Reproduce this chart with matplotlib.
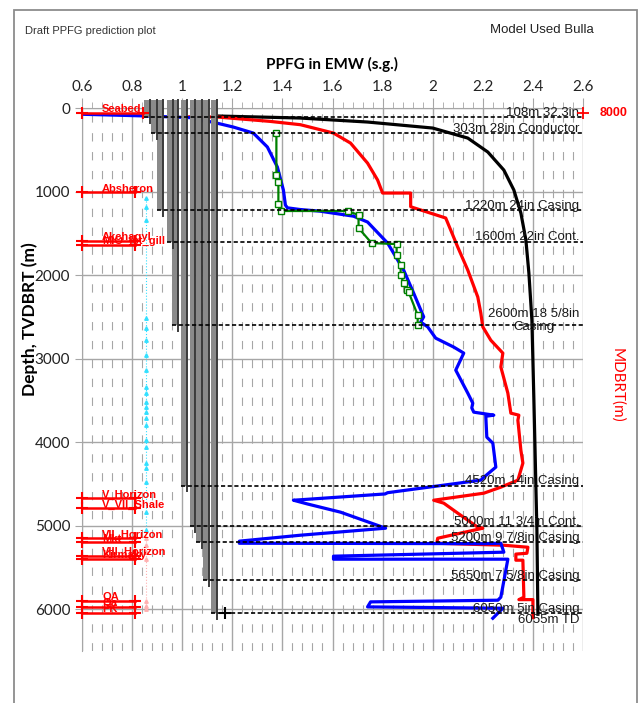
import numpy as np
import matplotlib
matplotlib.use('Agg')
import matplotlib.pyplot as plt
from matplotlib import font_manager as fm
from matplotlib.patches import Rectangle
from matplotlib.ticker import MultipleLocator


def has_font(name):
    try:
        fm.findfont(fm.FontProperties(family=name), fallback_to_default=False)
        return True
    except Exception:
        return False


NARROW = 'Liberation Sans Narrow' if has_font('Liberation Sans Narrow') else 'Liberation Sans'
MAIN = 'Lato' if has_font('Lato') else 'DejaVu Sans'
plt.rcParams['font.family'] = [MAIN, 'DejaVu Sans']

# ---------------- data ----------------
x_ticks = [0.6, 0.8, 1.0, 1.2, 1.4, 1.6, 1.8, 2.0, 2.2, 2.4, 2.6]
x_tick_labels = ['0.6', '0.8', '1', '1.2', '1.4', '1.6', '1.8', '2', '2.2', '2.4', '2.6']
depth_ticks = [0, 1000, 2000, 3000, 4000, 5000, 6000]

# pore pressure (blue)
pp_emw = [0.6, 0.85, 1.03, 1.13, 1.204, 1.284, 1.34, 1.38, 1.404, 1.412, 1.42, 1.47, 1.55,
          1.684, 1.74, 1.82, 1.884, 1.924, 1.964, 1.952, 1.98, 2.012, 2.084, 2.124, 2.092,
          2.14, 2.16, 2.156, 2.164, 2.244, 2.212, 2.216, 2.24, 2.252, 2.2, 2.192, 1.82,
          1.81, 1.47, 1.444, 1.50, 1.632, 1.812, 1.472, 1.228, 1.228, 2.20, 2.272, 2.284,
          1.604, 1.604, 2.30, 2.272, 2.26, 1.752, 1.74, 2.28, 2.24]
pp_depth = [75, 95, 115, 175, 228, 300, 467, 707, 982, 1162, 1195, 1215, 1235,
            1295, 1365, 1617, 1940, 2216, 2500, 2563, 2620, 2755, 2862, 2934, 3138,
            3413, 3533, 3590, 3641, 3677, 3690, 3940, 4012, 4299, 4431, 4455, 4605,
            4620, 4690, 4695, 4740, 4838, 5030, 5114, 5185, 5210, 5215, 5210, 5317,
            5365, 5401, 5401, 5856, 5892, 5912, 5972, 5988, 6108]

# fracture gradient (red)
fg_emw = [1.03, 1.14, 1.35, 1.472, 1.604, 1.672, 1.74, 1.78, 1.80, 1.912, 1.912, 1.92,
          2.052, 2.10, 2.14, 2.18, 2.192, 2.20, 2.232, 2.28, 2.272, 2.30, 2.312, 2.344,
          2.34, 2.352, 2.36, 2.34, 2.272, 2.204, 2.004, 2.044, 2.10, 2.18, 2.20, 2.02,
          2.016, 2.284, 2.38, 2.376, 2.332, 2.332, 2.36, 2.364, 2.344, 2.40, 2.40]
fg_depth = [105, 108, 160, 200, 300, 420, 660, 862, 1018, 1018, 1180, 1190,
            1317, 1665, 1940, 2263, 2455, 2620, 2780, 2934, 3100, 3413, 3653, 3677,
            3737, 4096, 4251, 4455, 4539, 4611, 4695, 4730, 4850, 5018, 5030, 5150,
            5210, 5234, 5258, 5330, 5340, 5413, 5413, 5856, 5885, 5885, 6100]

# overburden (black)
obg_emw = [1.13, 1.47, 1.74, 2.0, 2.14, 2.22, 2.284, 2.324, 2.352, 2.372, 2.384, 2.396,
           2.404, 2.416, 2.42]
obg_depth = [95, 120, 168, 240, 360, 527, 743, 982, 1257, 1580, 1976, 2540,
             3500, 5054, 6060]

# green curve with square markers
mw_emw = [1.376, 1.376, 1.384, 1.384, 1.396, 1.66, 1.704, 1.704, 1.756, 1.856, 1.856,
          1.872, 1.872, 1.884, 1.896, 1.904, 1.94, 1.94]
mw_depth = [300, 802, 886, 1150, 1233, 1233, 1281, 1437, 1617, 1629, 1760,
            1880, 2000, 2096, 2180, 2204, 2479, 2599]

# casing shoes
casing_depth = [108, 303, 1220, 1600, 2600, 4520, 5000, 5200, 5650, 6050]
casing_labels = ['108m 32.3in', '303m 28in Conductor', '1220m 24in Casing',
                 '1600m 22in Cont.', '2600m 18 5/8in\nCasing', '4520m 14in Casing',
                 '5000m 11 3/4in Cont.', '5200m 9 7/8in Casing', '5650m 7 5/8in Casing',
                 '6050m 5in Casing']
casing_bar_emw = [0.862, 0.89, 0.915, 0.955, 0.975, 1.01, 1.045, 1.07, 1.097, 1.13]
td_depth = 6055
td_label = '6055m TD'

# formation tops
formation_names = ['Seabed', 'Absheron', 'Akchagyl', 'MIO_Ist_gill', 'V_Horizon',
                   'V_VII_Shale', 'VII_Horizon', 'Mkt', 'VIII_Horizon', 'Kirmaky',
                   'QA', 'Qa', 'PK']
formation_depth = [60, 1010, 1590, 1640, 4670, 4790, 5150, 5200, 5360, 5400,
                   5900, 5970, 6040]

# cyan dotted points
cyan_depth = [1078, 1185, 1340, 2515, 2635, 2780, 2960, 3140, 3340, 3410, 3520, 3580,
              3640, 3710, 3800, 3980, 4060, 4250, 4310, 4480, 4840, 5054]
pink_depth = [5150, 5230, 5310, 5400, 5900, 5960, 6000]
marker_emw = 0.856

# ---------------- figure ----------------
W, H = 639, 703
fig = plt.figure(figsize=(W / 100, H / 100), dpi=100)
fig.patches.append(Rectangle((14 / W, -0.02), (637 - 14) / W, 1.02 - 10 / H,
                             transform=fig.transFigure, fill=False,
                             edgecolor='#8c8c8c', lw=1.3))

ax = fig.add_axes([82 / W, 1 - 651 / H, (583 - 82) / W, (651 - 108) / H])
ax.set_xlim(0.6, 2.6)
ax.set_ylim(6500, 0)
ax.set_axisbelow(True)

gridc = '#a6a6a6'
ax.xaxis.tick_top()
ax.xaxis.set_label_position('top')
ax.set_xticks(x_ticks)
ax.set_xticklabels(x_tick_labels)
ax.xaxis.set_minor_locator(MultipleLocator(0.04))
ax.set_yticks(depth_ticks)
ax.set_yticklabels([str(d) for d in depth_ticks])
ax.tick_params(axis='x', which='major', length=7, color=gridc, labelsize=11,
               pad=3, labelcolor='#222222')
ax.tick_params(axis='x', which='minor', length=4, color=gridc)
ax.tick_params(axis='y', which='major', length=5, color=gridc, labelsize=11,
               labelcolor='#222222')
ax.grid(which='major', color=gridc, lw=1.0)
ax.grid(which='minor', axis='x', color=gridc, lw=0.8, linestyle=(0, (7.5, 9.5)))
for s in ['bottom', 'right']:
    ax.spines[s].set_visible(False)
for s in ['top', 'left']:
    ax.spines[s].set_color(gridc)

ax.set_xlabel('PPFG in EMW (s.g.)', fontsize=11, fontweight='bold', labelpad=8)

# curves
ax.plot(obg_emw, obg_depth, color='black', lw=2.3, zorder=3)
ax.plot(fg_emw, fg_depth, color='#ff0000', lw=2.3, zorder=3)
ax.plot(pp_emw, pp_depth, color='#0000ff', lw=2.3, zorder=3)
ax.plot(mw_emw, mw_depth, color='#008000', lw=1.6, marker='s', ms=4.5,
        mfc='white', mec='#008000', mew=1.0, zorder=3.5)

# gray casing bars
for xb, d in zip(casing_bar_emw, casing_depth):
    ax.add_patch(Rectangle((xb - 0.014, -95), 0.022, d + 95, facecolor='#8a8a8a',
                           edgecolor='none', zorder=4, clip_on=False))
    ax.plot([xb + 0.008, xb + 0.008], [-95, d + 70], color='#3a3a3a', lw=1.4,
            zorder=4.2, clip_on=False)
ax.plot([1.17], [6050], marker='+', color='black', ms=9, mew=1.5, zorder=5)

# cyan / pink dotted markers
ax.plot([marker_emw] * len(cyan_depth), cyan_depth, color='#33e0ff', lw=0.8,
        ls=':', marker='^', ms=2.5, zorder=3)
ax.plot([marker_emw] * len(pink_depth), pink_depth, color='#ffb0b0', lw=0.8,
        ls=':', marker='^', ms=2.5, zorder=3)

# casing dashed lines and labels
for xb, d, lab in zip(casing_bar_emw, casing_depth, casing_labels):
    ax.plot([xb - 0.014, 2.6], [d, d], color='black', lw=1.2,
            ls=(0, (2.5, 1.5)), zorder=5)
    if '\n' in lab:
        ax.text(2.585, d - 55, lab, ha='right', va='center', multialignment='center',
                fontsize=9.5, family=[NARROW, 'DejaVu Sans'], color='#1a1a1a',
                linespacing=1.1, zorder=6)
    else:
        ax.text(2.585, d - 50, lab, ha='right', va='center', fontsize=9.5,
                family=[NARROW, 'DejaVu Sans'], color='#1a1a1a', zorder=6)
ax.text(2.585, td_depth + 75, td_label, ha='right', va='center', fontsize=9.5,
        family=[NARROW, 'DejaVu Sans'], color='#1a1a1a', zorder=6)

# formation tops
for name, d in zip(formation_names, formation_depth):
    xe = 0.845 if name == 'Seabed' else 0.81
    ax.plot([0.6, xe], [d, d], color='#ff0000', lw=1.8, marker='+', ms=8,
            mew=1.5, zorder=5, clip_on=False)
    ax.text(0.68, d - 8, name, ha='left', va='baseline', fontsize=8,
            fontweight='bold', color='#ff0000', family=['Liberation Sans', 'DejaVu Sans'],
            zorder=6)

# secondary axis marker / label
ax.plot([2.6], [55], marker='+', color='#ff0000', ms=8, mew=1.3, clip_on=False, zorder=6)
fig.text(600 / W, 1 - 113 / H, '8000', color='#ff0000', fontsize=9, fontweight='bold',
         ha='left', va='center', family=['Liberation Sans', 'DejaVu Sans'])
fig.text(617 / W, 1 - 385 / H, 'MDBRT(m)', color='#ff0000', fontsize=11,
         rotation=270, ha='center', va='center')

fig.text(30 / W, 1 - 319 / H, 'Depth, TVDBRT (m)', fontsize=12.5, fontweight='bold',
         rotation=90, ha='center', va='center')

fig.text(25 / W, 1 - 31 / H, 'Draft PPFG prediction plot', fontsize=8,
         family=['Liberation Sans', 'DejaVu Sans'], color='#333333', va='center')
fig.text(490 / W, 1 - 30 / H, 'Model Used Bulla', fontsize=9.5,
         family=['Liberation Sans', 'DejaVu Sans'], color='#222222', va='center')

fig.savefig('out.png', dpi=100)
